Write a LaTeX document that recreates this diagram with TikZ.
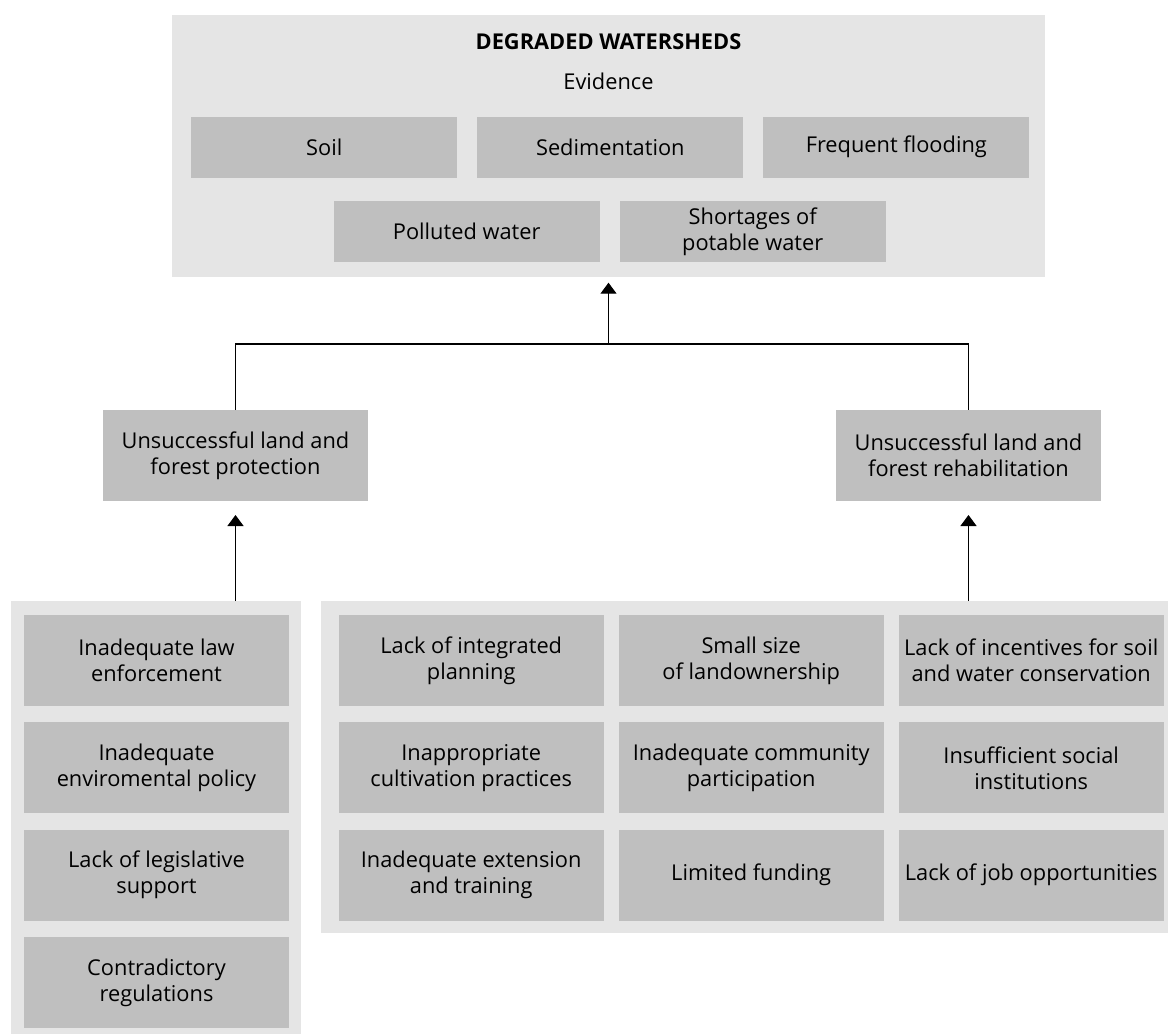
\documentclass[tikz,border=0pt]{standalone}
\usepackage{fontspec}
\setmainfont{Open Sans}
\usetikzlibrary{positioning,arrows.meta}

\begin{document}
\begin{tikzpicture}[
    x=0.5pt, y=-0.5pt,
    font=\fontsize{10.9}{13}\selectfont,
    panel/.style={fill=black!10, inner sep=0pt, outer sep=0pt},
    topbox/.style={fill=black!25, minimum width=133pt, minimum height=30.5pt,
        inner sep=0pt, outer sep=0pt, align=center},
    cause/.style={fill=black!25, minimum width=132.5pt, minimum height=45.5pt,
        inner sep=0pt, outer sep=0pt, align=center},
    link/.style={line width=0.6pt},
    arrow/.style={line width=0.6pt, -{Triangle[width=8pt, length=5.5pt]}}
]
\useasboundingbox (0,0) rectangle (1168,1035);

% top panel with the evidence
\node[panel, minimum width=436.5pt, minimum height=130.85pt] (evid) at (608.5,145.85) {};
\node (title) at (608.5,42) {\textbf{DEGRADED WATERSHEDS}};
\node (evlabel) at (608.5,81) {Evidence};

\node[topbox] (soil) at (324.3,147) {Soil};
\node[topbox, right=10pt of soil] (sediment) {Sedimentation};
\node[topbox, right=10pt of sediment] (flood) {Frequent flooding};
\node[topbox] (polluted) at (466.7,231.5) {Polluted water};
\node[topbox, right=10pt of polluted] (shortage) {Shortages of\\potable water};

% middle level
\node[topbox, minimum height=45.5pt, minimum width=132.5pt] (prot) at (235.5,455.5)
    {Unsuccessful land and\\forest protection};
\node[topbox, minimum height=45.5pt, minimum width=132.5pt] (rehab) at (968.5,455.5)
    {Unsuccessful land and\\forest rehabilitation};

% bottom panels
\node[panel, minimum width=145pt, minimum height=216.5pt] (causeL) at (156,817.5) {};
\node[panel, minimum width=423.5pt, minimum height=165.85pt] (causeR) at (744.5,766.85) {};

\node[cause] (law) at (156.5,660.5) {Inadequate law\\enforcement};
\node[cause, below=8.15pt of law] (policy) {Inadequate\\enviromental policy};
\node[cause, below=8.15pt of policy] (legis) {Lack of legislative\\support};
\node[cause, below=8.15pt of legis] (regul) {Contradictory\\regulations};

\node[cause] (plan) at (471.2,660.5) {Lack of integrated\\planning};
\node[cause, right=7.5pt of plan] (owner) {Small size\\of landownership};
\node[cause, right=7.5pt of owner] (incent) {Lack of incentives for soil\\and water conservation};
\node[cause, below=8.15pt of plan] (cultiv) {Inappropriate\\cultivation practices};
\node[cause, below=8.15pt of owner] (commun) {Inadequate community\\participation};
\node[cause, below=8.15pt of incent] (social) {Insufficient social\\institutions};
\node[cause, below=8.15pt of cultiv] (extens) {Inadequate extension\\and training};
\node[cause, below=8.15pt of commun] (funding) {Limited funding};
\node[cause, below=8.15pt of social] (jobs) {Lack of job opportunities};

% connectors
\coordinate (join) at (608.5,344);
\draw[link] (prot.north) |- (join) -| (rehab.north);
\draw[arrow, shorten >=3pt] (join) -- (evid.south);
\draw[arrow, shorten >=7pt] (causeL.north -| prot.south) -- (prot.south);
\draw[arrow, shorten >=7pt] (causeR.north -| rehab.south) -- (rehab.south);

\end{tikzpicture}
\end{document}
